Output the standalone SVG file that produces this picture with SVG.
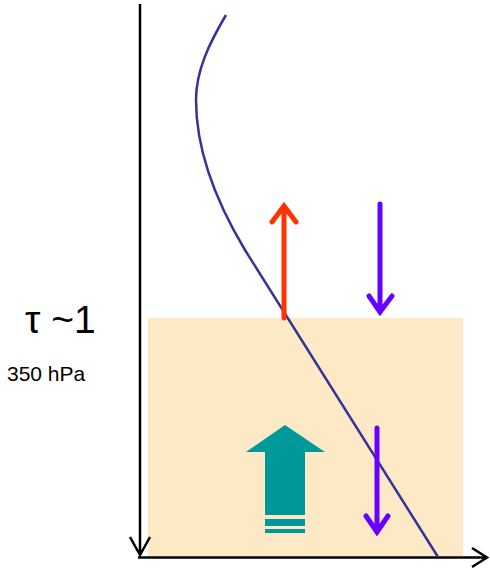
<svg xmlns="http://www.w3.org/2000/svg" width="490" height="569" viewBox="0 0 490 569">
<style>
.ax{stroke:#000;stroke-width:2.5;fill:none}
.flux{fill:none;stroke-width:5;stroke-linecap:round;stroke-linejoin:miter}
.lbl{font-family:"Liberation Sans",Arial,sans-serif;fill:#000}
</style>
<rect id="layer" x="148" y="318" width="315" height="238" fill="#FDE9C6"/>
<g id="connectors">
<path class="ax" d="M140,4 V555 M130,537 L140,555 L150,537"/>
<path class="ax" d="M138,557.5 H486 M472,548 L487,557.5 L472,567"/>
<path id="profile" d="M226,15 C210,42 196,70 196,100 C196,150 215,200 245,250 L438,557" fill="none" stroke="#333399" stroke-width="2.5"/>
<g id="up-red"><path class="flux" stroke="#FF3300" d="M284,318 V206 M272,222 L284,206 L296,222"/></g>
<g id="down-top"><path class="flux" stroke="#6600FF" d="M380,204 V312 M369,296 L380,312 L392,296"/></g>
<g id="down-bottom"><path class="flux" stroke="#6600FF" d="M377,428 V532 M366,516 L377,532 L388,516"/></g>
</g>
<g id="teal-arrow" fill="#009999">
<path d="M285,425 L325,452 L305,452 L305,515 L265,515 L265,452 L246,452 Z"/>
<rect x="265" y="519" width="40" height="7"/>
<rect x="265" y="529" width="40" height="4"/>
</g>
<text class="lbl" x="25" y="333" font-size="39">τ ~1</text>
<text class="lbl" x="7" y="381" font-size="21">350 hPa</text>
</svg>
